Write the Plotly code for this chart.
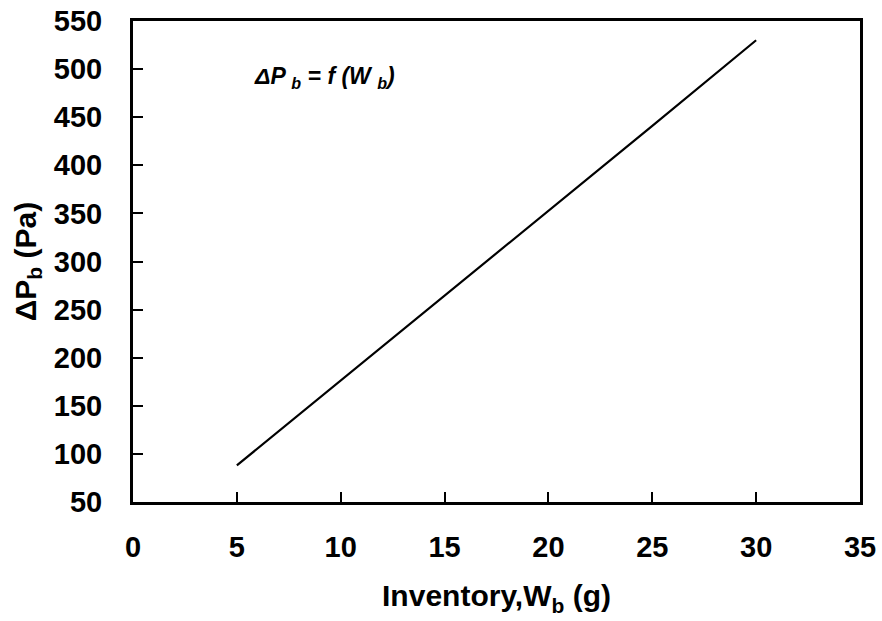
import plotly.graph_objects as go

inventory_g = [5, 10, 15, 20, 25, 30]
delta_p_pa = [88, 176, 265, 353, 441, 530]

x_ticks = [0, 5, 10, 15, 20, 25, 30, 35]
y_ticks = [50, 100, 150, 200, 250, 300, 350, 400, 450, 500, 550]

FONT = "Liberation Sans, Arial, sans-serif"

fig = go.Figure()
fig.add_trace(go.Scatter(x=inventory_g, y=delta_p_pa, mode="lines",
                         line=dict(color="black", width=2.2), showlegend=False))

axis_common = dict(showgrid=False, zeroline=False, showline=True, linecolor="black",
                   linewidth=3, mirror=True, ticks="inside", ticklen=10, tickwidth=2,
                   tickcolor="black", automargin=False, ticklabeloverflow="allow",
                   tickfont=dict(family=FONT, size=29, color="black", weight="bold"))

fig.update_xaxes(range=[0, 35], tickvals=x_ticks, ticklabelstandoff=17,
                 title=dict(text="<b>Inventory,W<sub>b</sub> (g)</b>",
                            font=dict(family=FONT, size=30, color="black"), standoff=24),
                 **axis_common)
fig.update_yaxes(range=[50, 550], tickvals=y_ticks, ticklabelstandoff=22,
                 title=dict(text="<b>ΔP<sub>b</sub> (Pa)</b>",
                            font=dict(family=FONT, size=30, color="black"), standoff=9),
                 **axis_common)

fig.add_annotation(x=9.2, y=491, xref="x", yref="y", showarrow=False,
                   text="<b><i>ΔP <sub>b</sub> = f (W <sub>b</sub>)</i></b>",
                   font=dict(family=FONT, size=23, color="black"))

fig.update_layout(width=882, height=621, margin=dict(l=133, r=22, t=21, b=119),
                  plot_bgcolor="white", paper_bgcolor="white",
                  font=dict(family=FONT, color="black"))

fig.write_html("out.html", config={"displayModeBar": False},
               post_script="document.body.style.margin='0';")
